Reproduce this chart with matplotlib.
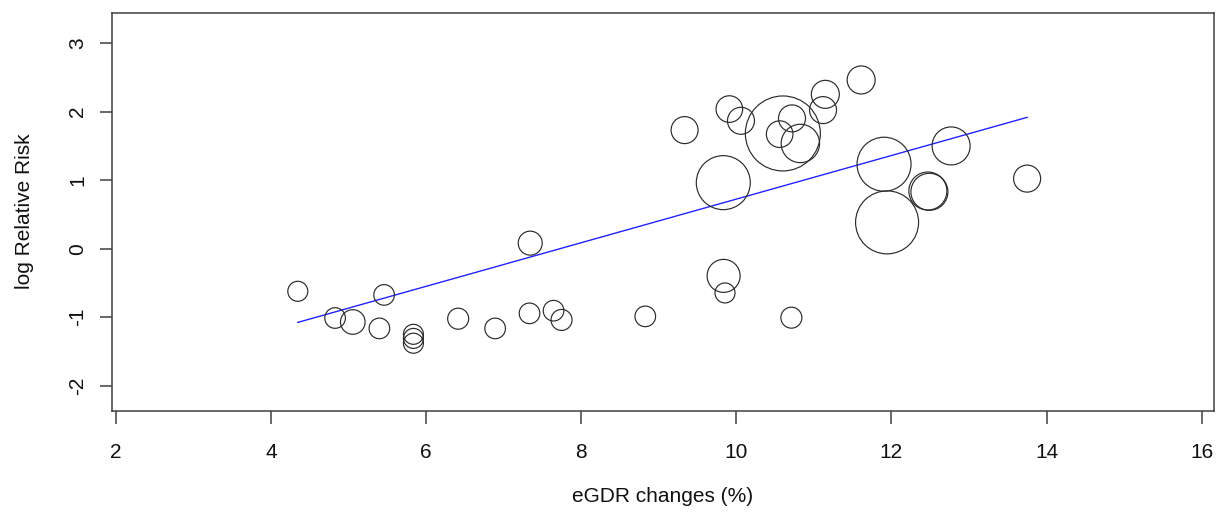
import matplotlib
matplotlib.use("Agg")
import matplotlib.pyplot as plt
import numpy as np

plt.rcParams['font.family'] = ['Liberation Sans', 'DejaVu Sans']

# Study-level data (eGDR change %, log relative risk, relative bubble radius)
egdr_change = [4.345, 4.826, 5.054, 5.397, 5.458, 5.836, 5.836, 5.836, 6.413, 6.890,
               7.333, 7.342, 7.643, 7.746, 8.826, 9.333, 9.832, 9.836, 9.854, 9.910,
               10.060, 10.600, 10.559, 10.718, 10.826, 10.710, 11.118, 11.148, 11.610, 11.905,
               11.944, 12.470, 12.490, 12.770, 13.750]
log_rr = [-0.622, -1.012, -1.070, -1.164, -0.675, -1.250, -1.310, -1.380, -1.022, -1.164,
          -0.944, 0.081, -0.905, -1.040, -0.988, 1.731, 0.964, -0.397, -0.646, 2.038,
          1.867, 1.682, 1.672, 1.902, 1.536, -1.007, 2.023, 2.253, 2.463, 1.233,
          0.384, 0.842, 0.830, 1.500, 1.023]
weight = [10.0, 10.3, 12.3, 10.3, 10.3, 10.0, 10.0, 10.0, 10.5, 10.3,
          10.3, 12.0, 10.3, 10.5, 10.3, 13.5, 27.0, 16.5, 10.0, 13.3,
          13.5, 37.5, 13.3, 13.5, 19.2, 10.5, 13.5, 14.0, 14.0, 27.0,
          31.5, 19.0, 18.5, 19.0, 13.5]

# Meta-regression fitted line endpoints
fit_x = [4.345, 13.75]
fit_y = [-1.076, 1.917]

x_ticks = [2, 4, 6, 8, 10, 12, 14, 16]
y_ticks = [-2, -1, 0, 1, 2, 3]

W, H, DPI = 1230, 513, 100
fig = plt.figure(figsize=(W / DPI, H / DPI), dpi=DPI)
left, right, top, bottom = 111.7, 1214.0, 13.3, 410.7
ax = fig.add_axes([left / W, 1 - bottom / H, (right - left) / W, (bottom - top) / H])

px2pt = 72.0 / DPI
sizes = [(2 * r * px2pt) ** 2 for r in weight]
ax.scatter(egdr_change, log_rr, s=sizes, facecolors='none', edgecolors='#2b2b2b',
           linewidths=0.85, zorder=3)
ax.plot(fit_x, fit_y, color='#2222ff', lw=1.0, zorder=2)

ax.set_xlim(1.945, 16.16)
ax.set_ylim(-2.365, 3.436)
ax.set_xticks(x_ticks)
ax.set_yticks(y_ticks)
ax.set_xticklabels([str(t) for t in x_ticks])
ax.set_yticklabels([str(t) for t in y_ticks], rotation=90, va='center')

fs = 15
for sp in ax.spines.values():
    sp.set_color('#404040')
    sp.set_linewidth(1.1)
ax.tick_params(axis='both', direction='out', length=9, width=1.1, color='#404040',
               labelsize=fs, labelcolor='#111111')
ax.tick_params(axis='x', pad=14)
ax.tick_params(axis='y', pad=8.5)

cx = (left + right) / 2 / W
fig.text(cx, 1 - 497 / H, 'eGDR changes (%)', ha='center', va='center', fontsize=fs,
         color='#111111')
fig.text(25 / W, 1 - 211 / H, 'log Relative Risk', ha='center', va='center', rotation=90,
         fontsize=fs, color='#111111')

fig.savefig('out.png', dpi=DPI, facecolor='white')
